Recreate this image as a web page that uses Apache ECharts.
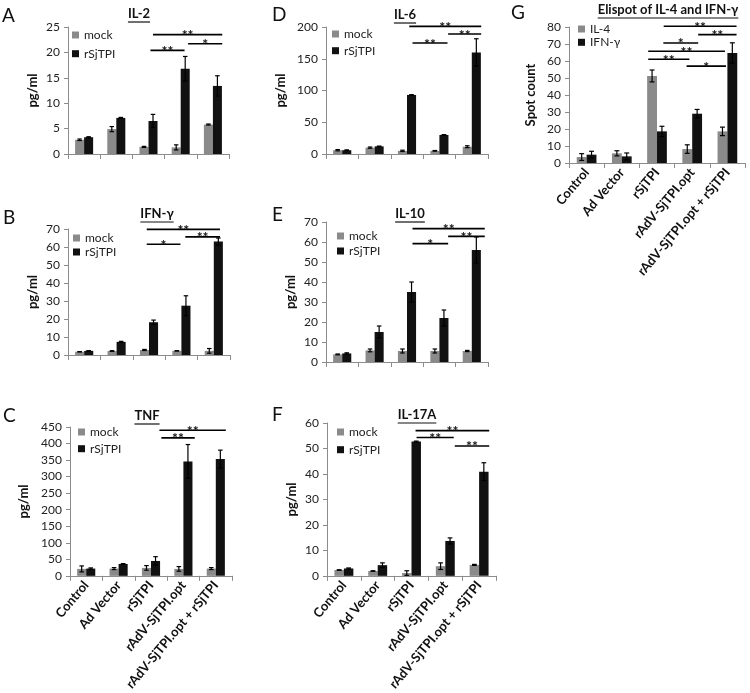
<!DOCTYPE html>
<html><head><meta charset="utf-8">
<script src="https://cdn.jsdelivr.net/npm/echarts@6/dist/echarts.min.js"></script>
<style>html,body{margin:0;padding:0;background:#fff}#c{width:750px;height:693px}</style>
</head><body><div id="c"></div>
<script>
// ---------- DATA ----------
const categories = ['Control', 'Ad Vector', 'rSjTPI', 'rAdV-SjTPI.opt', 'rAdV-SjTPI.opt + rSjTPI'];
const cytoNames = ['mock', 'rSjTPI'];
const elispotNames = ['IL-4', 'IFN-γ'];

// A: IL-2
const il2Mock = [2.8, 4.9, 1.4, 1.3, 5.8];
const il2MockErr = [0.15, 0.5, 0.1, 0.5, 0.1];
const il2Rsj = [3.3, 7.1, 6.5, 16.8, 13.4];
const il2RsjErr = [0.1, 0.1, 1.3, 2.4, 2.0];
const il2Ticks = [0, 5, 10, 15, 20, 25];
const il2Sig = [[2.06, 3.12, 20.4, '**'], [2.14, 4.29, 23.5, '**'], [3.23, 4.29, 21.7, '*']];

// B: IFN-γ
const ifnMock = [1.8, 2.2, 2.8, 2.3, 2.3];
const ifnMockErr = [0.1, 0.2, 0.3, 0.1, 1.3];
const ifnRsj = [2.3, 7.3, 18.2, 27.4, 63.0];
const ifnRsjErr = [0.1, 0.3, 1.2, 5.5, 2.0];
const ifnTicks = [0, 10, 20, 30, 40, 50, 60, 70];
const ifnSig = [[1.93, 2.97, 61.5, '*'], [1.93, 4.19, 69.8, '**'], [3.12, 4.19, 65.6, '**']];

// C: TNF
const tnfMock = [21, 22, 24, 21, 22];
const tnfMockErr = [9, 3, 7, 7, 3];
const tnfRsj = [22, 36, 45, 346, 353];
const tnfRsjErr = [2, 1, 13, 51, 27];
const tnfTicks = [0, 50, 100, 150, 200, 250, 300, 350, 400, 450];
const tnfSig = [[2.32, 3.35, 417, '**'], [2.26, 4.31, 440, '**']];

// D: IL-6
const il6Mock = [6, 10, 5, 5, 11.5];
const il6MockErr = [1, 1, 1, 0.5, 1.5];
const il6Rsj = [6, 12, 93, 30, 160];
const il6RsjErr = [0.5, 0.5, 0.5, 0.5, 21.5];
const il6Ticks = [0, 50, 100, 150, 200];
const il6Sig = [[2.17, 3.25, 174.7, '**'], [2.07, 4.29, 201, '**'], [3.27, 4.29, 189, '**']];

// E: IL-10
const il10Mock = [3.8, 5.8, 5.5, 5.5, 5.5];
const il10MockErr = [0.2, 0.7, 1, 1, 0.3];
const il10Rsj = [4.3, 15, 35, 22, 56];
const il10RsjErr = [0.3, 3, 5, 4, 6.5];
const il10Ticks = [0, 10, 20, 30, 40, 50, 60, 70];
const il10Sig = [[2.17, 3.27, 59.2, '*'], [2.17, 4.4, 66.7, '**'], [3.27, 4.4, 62.8, '**']];

// F: IL-17A
const il17Mock = [2.3, 1.9, 1.1, 3.8, 4.3];
const il17MockErr = [0.1, 0.1, 0.9, 1.3, 0.2];
const il17Rsj = [2.9, 4.2, 52.7, 13.7, 40.9];
const il17RsjErr = [0.2, 0.9, 0.2, 1.2, 3.5];
const il17Ticks = [0, 10, 20, 30, 40, 50, 60];
const il17Sig = [[2.15, 3.25, 54.3, '**'], [2.12, 4.3, 57, '**'], [3.28, 4.3, 51, '**']];

// G: Elispot
const il4Spots = [3.5, 5.7, 51.2, 8.2, 18.6];
const il4SpotsErr = [2, 1.5, 3.5, 2.5, 2.5];
const ifnSpots = [4.9, 3.9, 18.6, 29, 64.7];
const ifnSpotsErr = [2, 2, 3, 2.5, 6];
const spotTicks = [0, 10, 20, 30, 40, 50, 60, 70, 80];
const spotSig = [[2.19, 4.26, 80.4, '**'], [3.17, 4.26, 75.5, '**'], [2.18, 3.17, 70.6, '*'],
                 [1.75, 3.93, 65.7, '**'], [1.75, 2.92, 61, '**'], [2.84, 3.96, 57, '*']];

// ---------- LAYOUT ----------
const FONT = 'Lato';
const BAR_FRAC = 0.28;
const panels = [
  {letter:'A', title:'IL-2', names:cytoNames, a:il2Mock, ae:il2MockErr, b:il2Rsj, be:il2RsjErr, ticks:il2Ticks, sig:il2Sig,
   grid:{left:68, top:27, width:161, height:127}, labels:false, yname:'pg/ml', nameGap:29,
   legend:{left:72, top:29, gap:6.7}, lx:2, ly:6, tx:139, ty:14},
  {letter:'B', title:'IFN-γ', names:cytoNames, a:ifnMock, ae:ifnMockErr, b:ifnRsj, be:ifnRsjErr, ticks:ifnTicks, sig:ifnSig,
   grid:{left:68, top:229, width:162, height:126}, labels:false, yname:'pg/ml', nameGap:29,
   legend:{left:73, top:232, gap:2}, lx:3, ly:208, tx:157, ty:214},
  {letter:'C', title:'TNF', names:cytoNames, a:tnfMock, ae:tnfMockErr, b:tnfRsj, be:tnfRsjErr, ticks:tnfTicks, sig:tnfSig,
   grid:{left:70, top:427, width:162, height:152}, labels:true, yname:'pg/ml', nameGap:34,
   legend:{left:78, top:426, gap:4.7}, lx:3, ly:406, tx:147, ty:416},
  {letter:'D', title:'IL-6', names:cytoNames, a:il6Mock, ae:il6MockErr, b:il6Rsj, be:il6RsjErr, ticks:il6Ticks, sig:il6Sig,
   grid:{left:326, top:27, width:162, height:127}, labels:false, yname:'pg/ml', nameGap:33,
   legend:{left:332, top:28, gap:4.7}, lx:272, ly:5, tx:405, ty:15},
  {letter:'E', title:'IL-10', names:cytoNames, a:il10Mock, ae:il10MockErr, b:il10Rsj, be:il10RsjErr, ticks:il10Ticks, sig:il10Sig,
   grid:{left:326, top:222, width:162, height:140}, labels:false, yname:'pg/ml', nameGap:29,
   legend:{left:337, top:230, gap:3}, lx:272, ly:205, tx:410, ty:214},
  {letter:'F', title:'IL-17A', names:cytoNames, a:il17Mock, ae:il17MockErr, b:il17Rsj, be:il17RsjErr, ticks:il17Ticks, sig:il17Sig,
   grid:{left:327, top:423, width:169, height:157}, labels:true, yname:'pg/ml', nameGap:29,
   legend:{left:337, top:426, gap:5.7}, lx:272, ly:405, tx:417, ty:415},
  {letter:'G', title:'Elispot of IL-4 and IFN-γ', names:elispotNames, a:il4Spots, ae:il4SpotsErr, b:ifnSpots, be:ifnSpotsErr, ticks:spotTicks, sig:spotSig,
   grid:{left:569, top:27, width:176, height:136}, labels:true, yname:'Spot count', nameGap:32,
   legend:{left:578, top:23, gap:1.3}, lx:511, ly:3, tx:668, ty:10}
];

const COL_A = '#8a8a8a', COL_B = '#111111';

function errRender(side) {
  return function (params, api) {
    const cat = api.value(0), v = api.value(1), e = api.value(2);
    const band = api.size([1, 0])[0];
    const bw = band * BAR_FRAC;
    const x = api.coord([cat, v])[0] + side * bw / 2;
    const yt = api.coord([cat, v + e])[1];
    const yb = api.coord([cat, Math.max(0, v - e)])[1];
    const cw = bw * 0.5;
    const st = {stroke: '#000', lineWidth: 1.2};
    return {type: 'group', children: [
      {type: 'line', shape: {x1: x, y1: yt, x2: x, y2: yb}, style: st},
      {type: 'line', shape: {x1: x - cw / 2, y1: yt, x2: x + cw / 2, y2: yt}, style: st},
      {type: 'line', shape: {x1: x - cw / 2, y1: yb, x2: x + cw / 2, y2: yb}, style: st}
    ]};
  };
}
function sigRender(list) {
  return function (params, api) {
    const s = list[params.dataIndex];
    const band = api.size([1, 0])[0];
    const p = api.coord([0, s[2]]);
    const x1 = p[0] + s[0] * band, x2 = p[0] + s[1] * band, y = p[1];
    return {type: 'group', children: [
      {type: 'line', shape: {x1: x1, y1: y, x2: x2, y2: y}, style: {stroke: '#000', lineWidth: 1.6}},
      {type: 'text', x: (x1 + x2) / 2, y: y + 1,
       style: {text: s[3], fill: '#111', font: 'bold 14px ' + FONT, align: 'center', verticalAlign: 'middle'}}
    ]};
  };
}

const grids = [], xAxes = [], yAxes = [], series = [], legends = [], graphics = [];
const mctx = document.createElement('canvas').getContext('2d');
mctx.font = 'bold 13px ' + FONT;

panels.forEach(function (p, i) {
  grids.push(Object.assign({containLabel: false}, p.grid));
  xAxes.push({
    type: 'category', gridIndex: i, data: categories,
    axisLine: {lineStyle: {color: '#8c8c8c', width: 1}},
    axisTick: {show: true, length: 5, lineStyle: {color: '#8c8c8c'}},
    axisLabel: {show: p.labels, rotate: 50, interval: 0, fontSize: 13, fontWeight: 'bold', color: '#111', margin: 7, fontFamily: FONT}
  });
  const t = p.ticks;
  yAxes.push({
    type: 'value', gridIndex: i, min: t[0], max: t[t.length - 1], interval: t[1] - t[0],
    name: p.yname, nameLocation: 'middle', nameGap: p.nameGap + (String(t[t.length-1]).length - 2) * 6,
    nameTextStyle: {fontWeight: 'bold', fontSize: 13, color: '#111', fontFamily: FONT},
    axisLine: {show: true, lineStyle: {color: '#8c8c8c', width: 1}},
    axisTick: {show: true, length: 4, lineStyle: {color: '#8c8c8c'}},
    splitLine: {show: false},
    axisLabel: {fontSize: 12, color: '#222', margin: 8, fontFamily: FONT}
  });
  series.push({name: p.names[0], type: 'bar', xAxisIndex: i, yAxisIndex: i, data: p.a,
    barWidth: (BAR_FRAC * 100) + '%', barGap: '0%', itemStyle: {color: COL_A}});
  series.push({name: p.names[1], type: 'bar', xAxisIndex: i, yAxisIndex: i, data: p.b,
    barWidth: (BAR_FRAC * 100) + '%', barGap: '0%', itemStyle: {color: COL_B}});
  series.push({type: 'custom', xAxisIndex: i, yAxisIndex: i, z: 5, renderItem: errRender(-1),
    data: p.a.map(function (v, k) { return [k, v, p.ae[k]]; })});
  series.push({type: 'custom', xAxisIndex: i, yAxisIndex: i, z: 5, renderItem: errRender(1),
    data: p.b.map(function (v, k) { return [k, v, p.be[k]]; })});
  series.push({type: 'custom', xAxisIndex: i, yAxisIndex: i, z: 6, renderItem: sigRender(p.sig),
    data: p.sig.map(function (s) { return [0, s[2]]; })});
  legends.push({
    data: p.names, orient: 'vertical', left: p.legend.left, top: p.legend.top, padding: 0,
    itemGap: p.legend.gap, itemWidth: 7, itemHeight: 7, icon: 'rect', selectedMode: false,
    textStyle: {fontSize: 12, color: '#222', lineHeight: 12, fontFamily: FONT}
  });
  graphics.push({type: 'text', left: p.lx, top: p.ly,
    style: {text: p.letter, font: '19px ' + FONT, fill: '#111'}});
  const w = mctx.measureText(p.title).width;
  graphics.push({type: 'text', x: p.tx, y: p.ty,
    style: {text: p.title, font: 'bold 13px ' + FONT, fill: '#111', align: 'center', verticalAlign: 'middle'}});
  graphics.push({type: 'line', shape: {x1: p.tx - w / 2, y1: p.ty + 8, x2: p.tx + w / 2, y2: p.ty + 8},
    style: {stroke: '#111', lineWidth: 1.2}});
});

const chart = echarts.init(document.getElementById('c'), null, {renderer: 'canvas'});
chart.setOption({
  animation: false,
  textStyle: {fontFamily: FONT},
  grid: grids, xAxis: xAxes, yAxis: yAxes, series: series, legend: legends, graphic: graphics
});
</script></body></html>
